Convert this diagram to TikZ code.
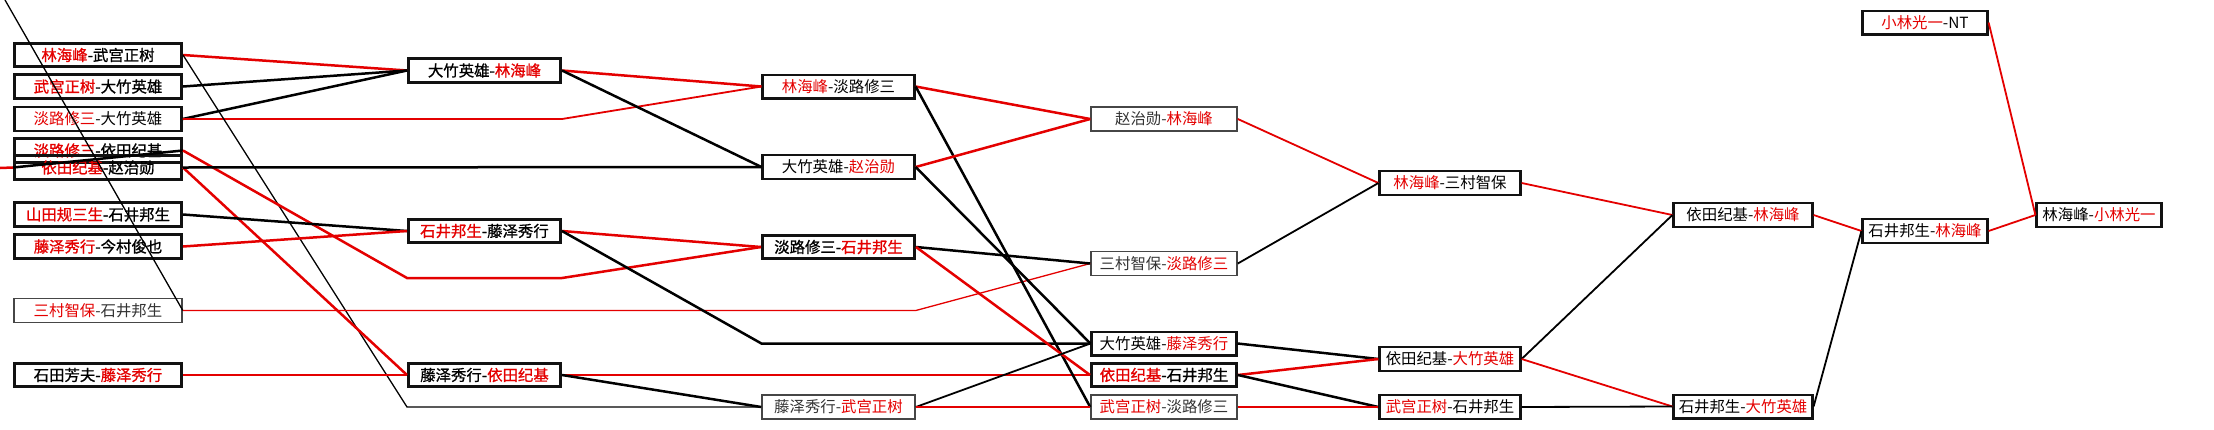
\documentclass[tikz,border=0pt]{standalone}
\usepackage{fontspec}
\usetikzlibrary{calc}
\newfontfamily\cjk{Noto Sans CJK SC}
\newfontfamily\cjkbold[FakeBold=1]{Noto Sans CJK SC}
\definecolor{winred}{RGB}{228,0,0}
\definecolor{boxedge}{RGB}{18,18,18}
\definecolor{paleedge}{RGB}{70,70,70}
\newcommand{\winfirst}[2]{\textcolor{winred}{#1}-#2}
\newcommand{\winsecond}[2]{#1-\textcolor{winred}{#2}}

\begin{document}
\begin{tikzpicture}[
  x=0.5pt,y=-0.5pt,
  font=\cjk\fontsize{7.7}{8}\selectfont,
  heavybox/.style={draw=boxedge,line width=1.5pt,minimum height=11.6pt,inner sep=0pt,
    font=\cjkbold\fontsize{7.7}{8}\selectfont},
  midbox/.style={draw=boxedge,line width=1.1pt,minimum height=11.9pt,inner sep=0pt},
  lightbox/.style={draw=paleedge,line width=0.8pt,minimum height=12.1pt,inner sep=0pt,text=black!80},
  redline/.style={draw=winred,line width=1.25pt},
  blackline/.style={draw=black,line width=1.25pt},
  midline/.style={line width=0.9pt},
  thinline/.style={line width=0.65pt}
]
\fill[white] (0,0) rectangle (2214,429);
\useasboundingbox (0,0) rectangle (2214,429);

% -------------------------------------------------------------------------
% First column: the entries on the left edge.
% -------------------------------------------------------------------------
\node[heavybox,minimum width=83.5pt] (c1a) at (98,55) {\winfirst{林海峰}{武宫正树}};
\node[heavybox,minimum width=83.5pt] (c1b) at (98,86.5) {\winfirst{武宫正树}{大竹英雄}};
\node[midbox,minimum width=83.5pt] (c1c) at (98,119) {\winfirst{淡路修三}{大竹英雄}};
\node[heavybox,minimum width=83.5pt] (c1d) at (98,150.5) {\winfirst{淡路修三}{依田纪基}};
\node[heavybox,minimum width=83.5pt] (c1e) at (98,167.5) {\winfirst{依田纪基}{赵治勋}};
\node[heavybox,minimum width=83.5pt] (c1f) at (98,214.5) {\winfirst{山田规三生}{石井邦生}};
\node[heavybox,minimum width=83.5pt] (c1g) at (98,246.5) {\winfirst{藤泽秀行}{今村俊也}};
\node[lightbox,minimum width=84pt] (c1h) at (98,310.5) {\winfirst{三村智保}{石井邦生}};
\node[heavybox,minimum width=83.5pt] (c1i) at (98,375) {\winsecond{石田芳夫}{藤泽秀行}};
% lines that come in from beyond the left and top edges
\coordinate (offleft) at (0,168);
\coordinate (offtop) at (5,0);

% -------------------------------------------------------------------------
% Second and third columns.
% -------------------------------------------------------------------------
\node[heavybox,minimum width=76pt] (c2a) at (484.5,70.5) {\winsecond{大竹英雄}{林海峰}};
\node[heavybox,minimum width=76pt] (c2b) at (484.5,231) {\winfirst{石井邦生}{藤泽秀行}};
\node[heavybox,minimum width=76pt] (c2c) at (484.5,375) {\winsecond{藤泽秀行}{依田纪基}};

\node[midbox,minimum width=76pt] (c3a) at (838.5,86.5) {\winfirst{林海峰}{淡路修三}};
\node[midbox,minimum width=76pt] (c3b) at (838.5,167) {\winsecond{大竹英雄}{赵治勋}};
\node[heavybox,minimum width=76pt] (c3c) at (838.5,247) {\winsecond{淡路修三}{石井邦生}};
\node[lightbox,minimum width=76.5pt] (c3d) at (838.5,407) {\winsecond{藤泽秀行}{武宫正树}};

% -------------------------------------------------------------------------
% Later columns.
% -------------------------------------------------------------------------
\node[lightbox,minimum width=73pt] (c4a) at (1164,119) {\winsecond{赵治勋}{林海峰}};
\node[lightbox,minimum width=73pt] (c4b) at (1164,263.5) {\winsecond{三村智保}{淡路修三}};
\node[midbox,minimum width=72.5pt] (c4c) at (1164,343.5) {\winsecond{大竹英雄}{藤泽秀行}};
\node[heavybox,minimum width=72.5pt] (c4d) at (1164,375) {\winfirst{依田纪基}{石井邦生}};
\node[lightbox,minimum width=73pt] (c4e) at (1164,407) {\winfirst{武宫正树}{淡路修三}};

\node[midbox,minimum width=70.5pt] (c5a) at (1450,183) {\winfirst{林海峰}{三村智保}};
\node[midbox,minimum width=70.5pt] (c5b) at (1450,359) {\winsecond{依田纪基}{大竹英雄}};
\node[midbox,minimum width=70.5pt] (c5c) at (1450,407) {\winfirst{武宫正树}{石井邦生}};

\node[midbox,minimum width=69.5pt] (c6a) at (1743,215) {\winsecond{依田纪基}{林海峰}};
\node[midbox,minimum width=69.5pt] (c6b) at (1743,406.5) {\winsecond{石井邦生}{大竹英雄}};

\node[midbox,minimum width=62.5pt] (c7a) at (1925,231) {\winsecond{石井邦生}{林海峰}};
\node[midbox,minimum width=62.5pt] (c7b) at (1925,22.5) {\winfirst{小林光一}{NT}};

\node[midbox,minimum width=62.5pt] (c8a) at (2099,215) {\winsecond{林海峰}{小林光一}};

% -------------------------------------------------------------------------
% Connectors, column by column; red goes to the winner's next game.
% -------------------------------------------------------------------------
\draw[redline] (c1a.east) -- (c2a.west);
\draw[blackline] (c1b.east) -- (c2a.west);
\draw[blackline] (c1c.east) -- (c2a.west);
\draw[redline,midline] (c1c.east) -- (c2a.east |- c1c.east) -- (c3a.west);
\draw[blackline,thinline] (c1a.east) -- (c2c.west |- c3d.west) -- (c3d.west);
\draw[blackline,thinline] (offtop) -- (c1h.east);
\draw[redline] (offleft) -- (c1e.west);
\draw[blackline] (c1e.west) -- (c1d.east);
\draw[redline] (c1d.east) -- (407,278) -- (562,278) -- (c3c.west);
\draw[redline] (c1e.east) -- (c2c.west);
\draw[blackline] (c1e.east) -- (c3b.west);
\draw[blackline] (c1f.east) -- (c2b.west);
\draw[redline] (c1g.east) -- (c2b.west);
\draw[redline,thinline] (c1h.east) -- (c3d.east |- c1h.east) -- (c4b.west);
\draw[redline] (c1i.east) -- (c2c.west);

\draw[redline] (c2a.east) -- (c3a.west);
\draw[blackline] (c2a.east) -- (c3b.west);
\draw[redline] (c2b.east) -- (c3c.west);
\draw[blackline] (c2b.east) -- (c3a.west |- c4c.west) -- (c4c.west);
\draw[redline] (c2c.east) -- (c4d.west);
\draw[blackline] (c2c.east) -- (c3d.west);

\draw[redline] (c3a.east) -- (c4a.west);
\draw[blackline] (c3a.east) -- (c4e.west);
\draw[redline] (c3b.east) -- (c4a.west);
\draw[blackline] (c3b.east) -- (c4c.west);
\draw[blackline] (c3c.east) -- (c4b.west);
\draw[redline] (c3c.east) -- (c4d.west);
\draw[blackline,midline] (c3d.east) -- (c4c.west);
\draw[redline,midline] (c3d.east) -- (c4e.west);

\draw[redline,midline] (c4a.east) -- (c5a.west);
\draw[blackline,midline] (c4b.east) -- (c5a.west);
\draw[blackline] (c4c.east) -- (c5b.west);
\draw[redline] (c4d.east) -- (c5b.west);
\draw[blackline] (c4d.east) -- (c5c.west);
\draw[redline,midline] (c4e.east) -- (c5c.west);

\draw[redline,midline] (c5a.east) -- (c6a.west);
\draw[blackline,midline] (c5b.east) -- (c6a.west);
\draw[redline,midline] (c5b.east) -- (c6b.west);
\draw[blackline,midline] (c5c.east) -- (c6b.west);

\draw[redline,midline] (c6a.east) -- (c7a.west);
\draw[blackline,midline] (c6b.east) -- (c7a.west);
\draw[redline,midline] (c7a.east) -- (c8a.west);
\draw[redline,midline] (c7b.east) -- (c8a.west);
\end{tikzpicture}
\end{document}
